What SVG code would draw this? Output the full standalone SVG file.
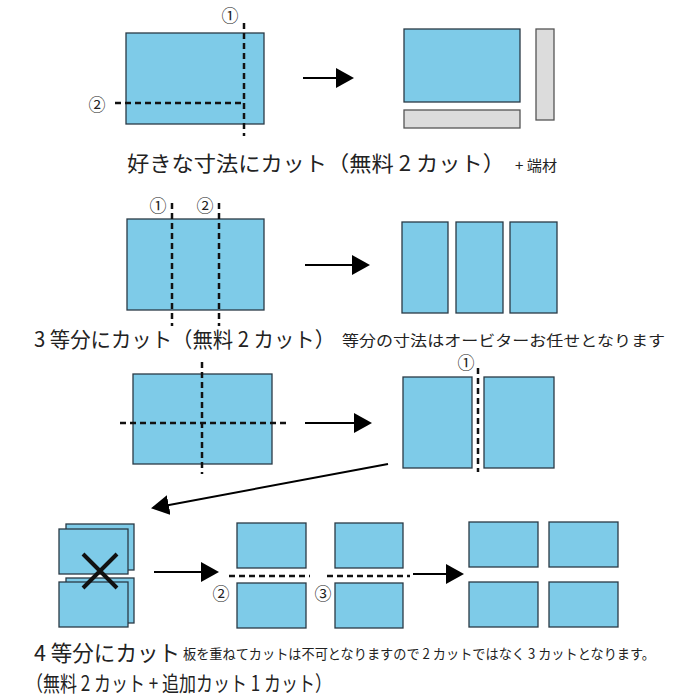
<svg xmlns="http://www.w3.org/2000/svg" width="700" height="700" viewBox="0 0 700 700">
<style>
.b{fill:#7ecbe8;stroke:#2a3a45;stroke-width:1.3}
.g{fill:#dcdcdc;stroke:#555;stroke-width:1.3}
.d{stroke:#111;stroke-width:2.5;stroke-dasharray:6 4;fill:none}
.a{stroke:#000;stroke-width:2;fill:none;marker-end:url(#ah)}
.t{font-family:"Noto Sans CJK JP","Noto Sans",sans-serif;fill:#222}
.n{font-family:"Noto Sans CJK JP","Noto Sans",sans-serif;fill:#222;font-size:17px;text-anchor:middle;dominant-baseline:central}
</style>
<defs>
<marker id="ah" markerUnits="userSpaceOnUse" markerWidth="18" markerHeight="20" refX="16" refY="10" orient="auto">
<path d="M0,0 L18,10 L0,20 z" fill="#000"/>
</marker>
</defs>
<rect width="700" height="700" fill="#fff"/>

<g id="sec1-source">
<rect class="b" x="126" y="33" width="138" height="91"/>
<line class="d" x1="244" y1="23" x2="244" y2="136"/>
<line class="d" x1="115" y1="103" x2="244" y2="103"/>
<text class="n" x="230" y="14">①</text>
<text class="n" x="97" y="103">②</text>
</g>
<g id="sec1-result">
<rect class="b" x="404" y="29" width="116" height="73"/>
<rect class="g" x="404" y="110" width="116" height="18"/>
<rect class="g" x="536" y="29" width="18" height="91"/>
</g>
<g id="sec1-label">
<text class="t" x="127" y="171" font-size="21" textLength="378" lengthAdjust="spacingAndGlyphs">好きな寸法にカット（無料 2 カット）</text>
<text class="t" x="515" y="171" font-size="15" textLength="42" lengthAdjust="spacingAndGlyphs">+ 端材</text>
</g>

<g id="sec2-source">
<rect class="b" x="127" y="219" width="137" height="91"/>
<line class="d" x1="172" y1="203" x2="172" y2="326"/>
<line class="d" x1="219" y1="203" x2="219" y2="326"/>
<text class="n" x="158" y="204">①</text>
<text class="n" x="205" y="204">②</text>
</g>
<g id="sec2-result">
<rect class="b" x="402" y="222" width="46" height="91"/>
<rect class="b" x="456" y="222" width="47" height="91"/>
<rect class="b" x="510" y="222" width="47" height="91"/>
</g>
<g id="sec2-label">
<text class="t" x="34" y="347" font-size="21" textLength="301" lengthAdjust="spacingAndGlyphs">3 等分にカット（無料 2 カット）</text>
<text class="t" x="342" y="346" font-size="15" textLength="323" lengthAdjust="spacingAndGlyphs">等分の寸法はオービターお任せとなります</text>
</g>

<g id="sec3-source">
<rect class="b" x="133" y="374" width="139" height="90"/>
<line class="d" x1="202" y1="362" x2="202" y2="474"/>
<line class="d" x1="120" y1="423" x2="290" y2="423"/>
</g>
<g id="sec3-result">
<rect class="b" x="403" y="377" width="69" height="91"/>
<rect class="b" x="484" y="377" width="70" height="91"/>
<line class="d" x1="478" y1="368" x2="478" y2="472"/>
<text class="n" x="466" y="361">①</text>
</g>

<g id="sec4-stack">
<rect class="b" x="66" y="524" width="68" height="46"/>
<rect class="b" x="59" y="529" width="69" height="45"/>
<rect class="b" x="66" y="578" width="68" height="45"/>
<rect class="b" x="59" y="582" width="69" height="45"/>
<path d="M83,554 L117,588 M117,554 L83,588" stroke="#111" stroke-width="4" fill="none"/>
</g>
<g id="sec4-step">
<rect class="b" x="237" y="523" width="69" height="45"/>
<rect class="b" x="237" y="583" width="69" height="45"/>
<rect class="b" x="335" y="523" width="68" height="45"/>
<rect class="b" x="335" y="583" width="68" height="45"/>
<line class="d" x1="229" y1="576" x2="310" y2="576"/>
<line class="d" x1="327" y1="576" x2="410" y2="576"/>
<text class="n" x="221" y="592">②</text>
<text class="n" x="323" y="592">③</text>
</g>
<g id="sec4-result">
<rect class="b" x="469" y="522" width="69" height="45"/>
<rect class="b" x="549" y="522" width="69" height="45"/>
<rect class="b" x="469" y="582" width="69" height="45"/>
<rect class="b" x="549" y="582" width="69" height="45"/>
</g>
<g id="sec4-label">
<text class="t" x="34" y="661" font-size="22" textLength="146" lengthAdjust="spacingAndGlyphs">4 等分にカット</text>
<text class="t" x="183" y="659" font-size="14" textLength="472" lengthAdjust="spacingAndGlyphs">板を重ねてカットは不可となりますので 2 カットではなく 3 カットとなります。</text>
<text class="t" x="26" y="691" font-size="21" textLength="306" lengthAdjust="spacingAndGlyphs">（無料 2 カット + 追加カット 1 カット）</text>
</g>

<g id="connectors">
<line class="a" x1="303" y1="78" x2="352" y2="78"/>
<line class="a" x1="305" y1="265" x2="368" y2="265"/>
<line class="a" x1="305" y1="423" x2="370" y2="423"/>
<line class="a" x1="388" y1="464" x2="153" y2="508"/>
<line class="a" x1="154" y1="572" x2="217" y2="572"/>
<line class="a" x1="413" y1="574" x2="462" y2="574"/>
</g>
</svg>
